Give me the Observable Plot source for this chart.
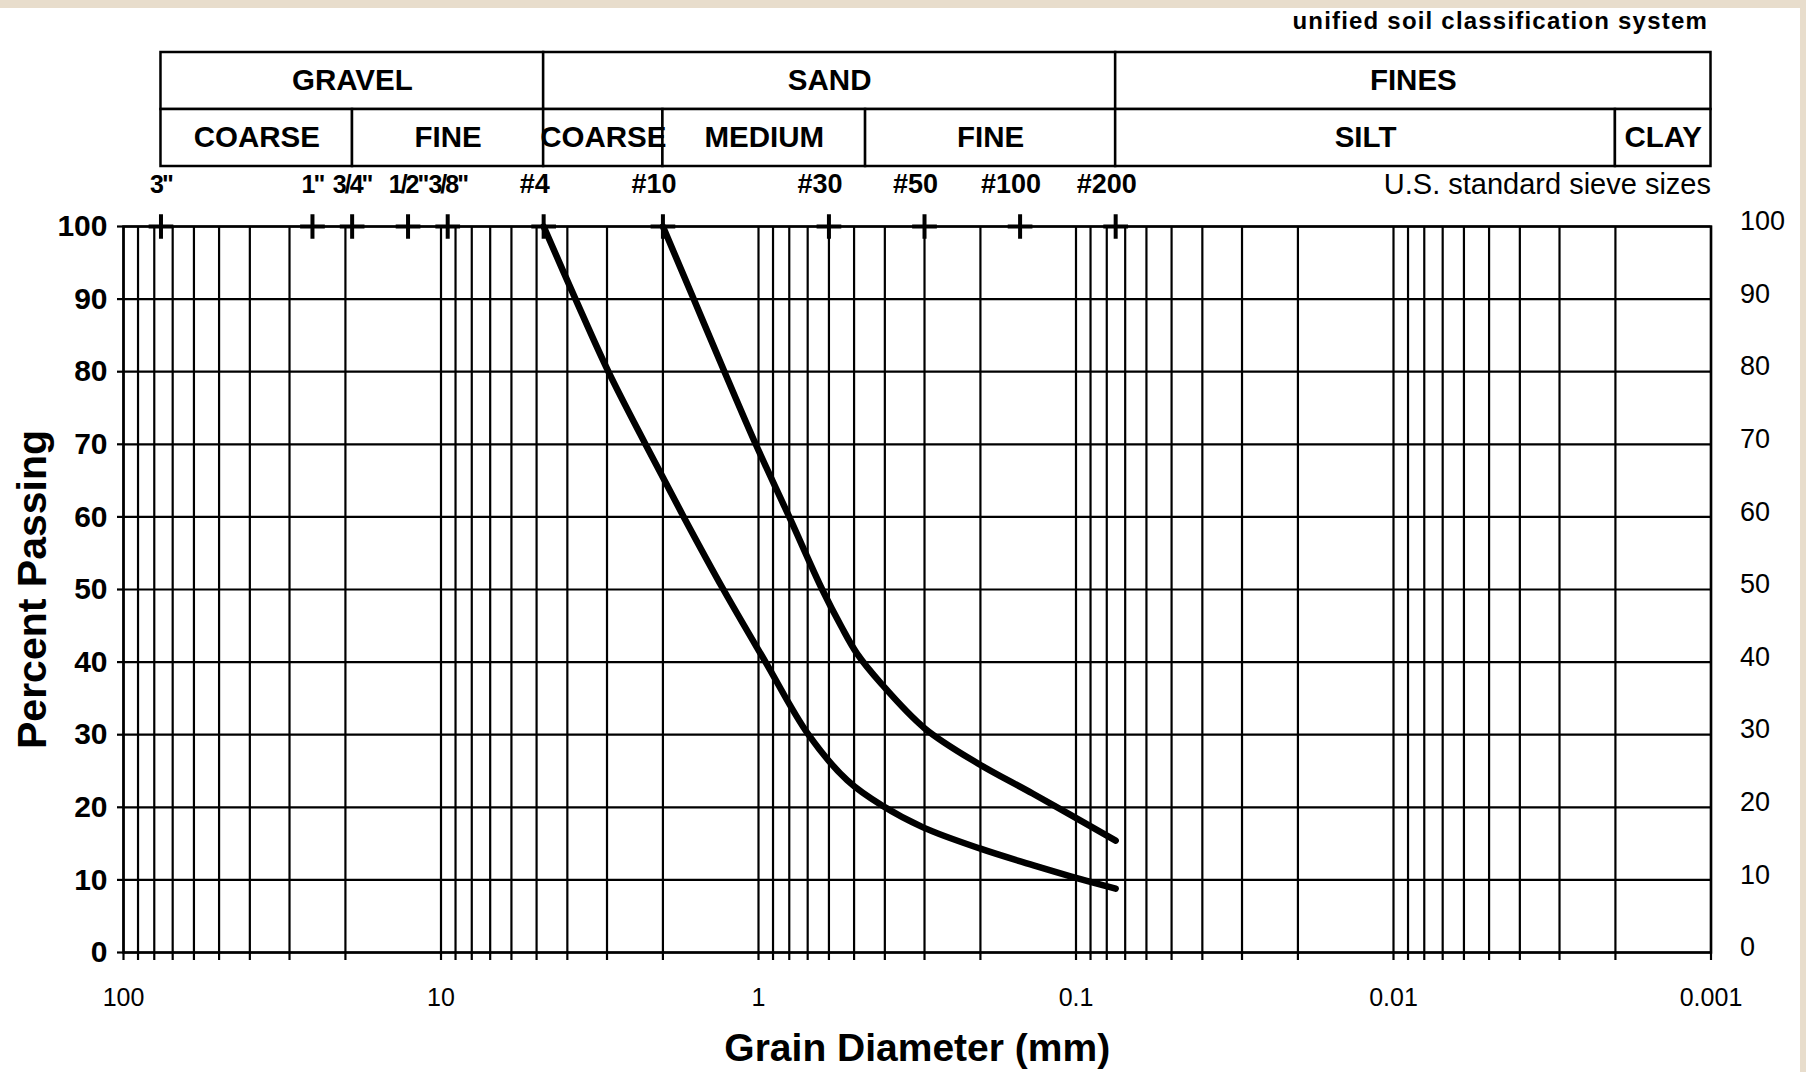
<!DOCTYPE html>
<html>
<head>
<meta charset="utf-8">
<script src="https://cdn.jsdelivr.net/npm/d3@7"></script>
<script src="https://cdn.jsdelivr.net/npm/@observablehq/plot@0.6"></script>
<style>
html, body { margin: 0; padding: 0; background: #fff; }
#page { position: relative; width: 1806px; height: 1072px; overflow: hidden; background: #fff; }
#head { position: absolute; left: 0; top: 0; }
#main { position: absolute; left: 0; top: 200px; }
#topband { position: absolute; left: 0; top: 0; width: 1806px; height: 8px; background: #e8ddcc; }
#rightband { position: absolute; right: 0; top: 0; width: 6px; height: 1072px; background: #e8ddcc; }
svg { display: block; }
</style>
</head>
<body>
<div id="page">
  <div id="head"></div>
  <div id="main"></div>
  <div id="topband"></div>
  <div id="rightband"></div>
</div>
<script>
// ---------- data ----------
const sieveLabels = ['3"', '1"', '3/4"', '1/2"', '3/8"', '#4', '#10', '#30', '#50', '#100', '#200'];
const sieveMM     = [76.2, 25.4, 19.05, 12.7, 9.525, 4.75, 2.0, 0.6, 0.3, 0.15, 0.075];

const majorNames = ["GRAVEL", "SAND", "FINES"];
const majorFrom  = [76.2, 4.75, 0.075];
const majorTo    = [4.75, 0.075, 0.001];

const minorNames = ["COARSE", "FINE", "COARSE", "MEDIUM", "FINE", "SILT", "CLAY"];
const minorFrom  = [76.2, 19, 4.75, 2, 0.46, 0.075, 0.002];
const minorTo    = [19, 4.75, 2, 0.46, 0.075, 0.002, 0.001];

const sampleADiam = [4.75, 3.77, 2.97, 2.27, 1.72, 1.29, 0.95, 0.696, 0.525, 0.407, 0.302, 0.200, 0.136, 0.104, 0.075];
const sampleAPass = [100, 90, 80, 70, 60, 50, 40, 30, 23.7, 20.2, 17.2, 14.3, 12.0, 10.5, 8.8];

const sampleBDiam = [2.0, 1.60, 1.28, 1.02, 0.80, 0.63, 0.55, 0.49, 0.41, 0.30, 0.203, 0.137, 0.075];
const sampleBPass = [100, 90, 80, 70, 60, 50, 45, 41.2, 37, 30.9, 26, 21.9, 15.4];

const yTicks = [0, 10, 20, 30, 40, 50, 60, 70, 80, 90, 100];
const decadeTicks = [100, 10, 1, 0.1, 0.01, 0.001];
const decadeLabels = ["100", "10", "1", "0.1", "0.01", "0.001"];
const logSteps = [1, 2, 3, 4, 5, 6, 7, 8, 9];

const xTitle = "Grain Diameter (mm)";
const yTitle = "Percent Passing";
const sieveTitle = "U.S. standard sieve sizes";
const systemTitle = "unified soil classification system";

// ---------- derived tables ----------
const sieves = sieveMM.map((mm, i) => ({mm, label: sieveLabels[i]}));
const inchSieves = sieves.filter(s => !s.label.startsWith("#"));
const meshSieves = sieves.filter(s => s.label.startsWith("#"));
const bands = [
  ...majorNames.map((name, i) => ({name, from: majorFrom[i], to: majorTo[i], row: "major"})),
  ...minorNames.map((name, i) => ({name, from: minorFrom[i], to: minorTo[i], row: "minor"}))
];
const curves = [
  ...sampleADiam.map((d, i) => ({sample: "A", diameter: d, passing: sampleAPass[i]})),
  ...sampleBDiam.map((d, i) => ({sample: "B", diameter: d, passing: sampleBPass[i]}))
];
const minorTicks = decadeTicks.slice(1).flatMap(dec => logSteps.map(s => +(s * dec).toPrecision(6))).concat([100]);
const decadeLabelOf = new Map(decadeTicks.map((d, i) => [d, decadeLabels[i]]));

// ---------- layout ----------
const W = 1806, ML = 123, MR = 95.5;
const FONT = '"Liberation Sans", Arial, Helvetica, sans-serif';
const baseStyle = {fontFamily: FONT, fontSize: "24px", background: "transparent", color: "black", overflow: "visible"};
const xScale = {type: "log", domain: [100, 0.001]};

const head = Plot.plot({
  width: W, height: 200,
  marginTop: 52, marginBottom: 34, marginLeft: ML, marginRight: MR,
  x: {...xScale, axis: null},
  y: {type: "band", domain: ["major", "minor"], padding: 0, axis: null},
  style: baseStyle,
  marks: [
    Plot.barX(bands, {x1: "from", x2: "to", y: "row", fill: "white", stroke: "black", strokeWidth: 2.5}),
    Plot.text(bands, {x: d => Math.sqrt(d.from * d.to), y: "row", text: "name", fontSize: 29.5, fontWeight: "bold"}),
    Plot.text(inchSieves, {x: "mm", text: "label", frameAnchor: "bottom", lineAnchor: "middle", dy: 18, dx: 0, fontSize: 25, fontWeight: "bold"}),
    Plot.text(meshSieves, {x: "mm", text: "label", frameAnchor: "bottom", lineAnchor: "middle", dy: 18, dx: -9, fontSize: 27, fontWeight: "bold"}),
    Plot.text([sieveTitle], {text: d => d, frameAnchor: "bottom-right", lineAnchor: "middle", dy: 18, textAnchor: "end", fontSize: 29}),
    Plot.text([systemTitle], {text: d => d, frameAnchor: "top-right", lineAnchor: "middle", dy: -31, dx: -3, textAnchor: "end", fontSize: 24, fontWeight: "bold"})
  ]
});
// the inch sizes are crowded together on the printed form: tighten them so they touch without overlapping
d3.select(head).selectAll("text")
  .filter(function() { return inchSieves.some(s => s.label === this.textContent); })
  .style("letter-spacing", "-2px");
d3.select(head).selectAll("text")
  .filter(function() { return this.textContent === systemTitle; })
  .style("letter-spacing", "1.2px");
document.getElementById("head").appendChild(head);

const main = Plot.plot({
  width: W, height: 872,
  marginTop: 26, marginBottom: 120, marginLeft: ML, marginRight: MR,
  x: xScale,
  y: {domain: [0, 100]},
  style: baseStyle,
  marks: [
    Plot.ruleX(minorTicks, {stroke: "black", strokeWidth: 2.2}),
    Plot.ruleY(yTicks, {stroke: "black", strokeWidth: 2.2}),
    Plot.frame({stroke: "black", strokeWidth: 2.5}),
    Plot.axisY({ticks: yTicks, anchor: "left", tickSize: 6, tickPadding: 10, strokeWidth: 2.2, fontSize: 30, fontWeight: "bold", label: null}),
    Plot.axisY({ticks: yTicks, anchor: "right", tickSize: 0, tickPadding: 29, dy: -5, fontSize: 27, label: null}),
    Plot.axisX({ticks: minorTicks, anchor: "bottom", tickSize: 8, strokeWidth: 2.2, tickFormat: () => "", label: null}),
    Plot.axisX({ticks: decadeTicks, anchor: "bottom", tickSize: 0, tickPadding: 36, tickFormat: d => decadeLabelOf.get(d), fontSize: 25, label: null}),
    Plot.line(curves, {x: "diameter", y: "passing", z: "sample", stroke: "black", strokeWidth: 6.5, curve: "catmull-rom", strokeLinecap: "round", strokeLinejoin: "round"}),
    Plot.dot(sieves, {x: "mm", frameAnchor: "top", symbol: "plus", r: 8, stroke: "black", strokeWidth: 4}),
    Plot.text([xTitle], {text: d => d, frameAnchor: "bottom", lineAnchor: "middle", dy: 96, fontSize: 39, fontWeight: "bold"}),
    Plot.text([yTitle], {text: d => d, frameAnchor: "left", textAnchor: "middle", lineAnchor: "middle", dx: -91, rotate: -90, fontSize: 41, fontWeight: "bold"})
  ]
});
document.getElementById("main").appendChild(main);
</script>
</body>
</html>
